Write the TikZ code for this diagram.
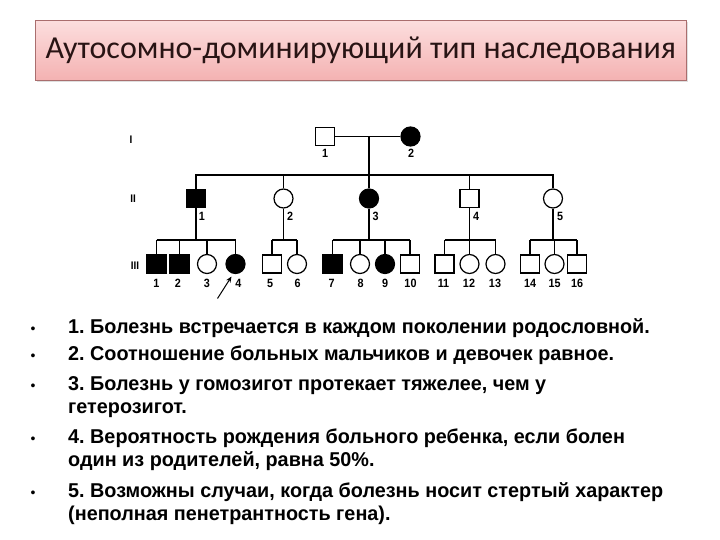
\documentclass[tikz,border=0pt]{standalone}
\usepackage{fontspec}
\setmainfont{Liberation Sans}
\newfontfamily\titlefont{Carlito}
\newfontfamily\listfont[FakeStretch=0.99]{Liberation Sans Bold}
\newfontfamily\numfont[FakeStretch=0.9]{Liberation Sans Bold}
\usetikzlibrary{arrows.meta}
\definecolor{boxtop}{RGB}{252,222,222}
\definecolor{boxbot}{RGB}{244,178,178}
\definecolor{boxline}{RGB}{170,110,110}
\definecolor{titletext}{RGB}{40,20,20}
\frenchspacing
\tikzset{
  sym/.style={draw=black, line width=1.2pt, inner sep=0pt, fill=white},
  male/.style={sym, rectangle, minimum width=19pt, minimum height=18pt},
  female/.style={sym, circle, minimum size=19pt},
  aff/.style={fill=black},
  lnk/.style={line width=1.3pt},
  num/.style={font=\numfont\fontsize{12}{12}\selectfont, inner sep=0pt},
  gen/.style={font=\numfont\fontsize{11}{11}\selectfont, inner sep=0pt},
  item/.style={font=\listfont\fontsize{20}{20}\selectfont, anchor=base west, inner sep=0pt},
  bul/.style={font=\fontsize{14}{14}\selectfont, anchor=base, inner sep=0pt}
}
\begin{document}
\begin{tikzpicture}[x=1pt,y=-1pt]
\useasboundingbox (0,0) rectangle (720,540);
\fill[white] (0,0) rectangle (720,540);
% title
\fill[gray!25] (37,22) rectangle (688,82);
\node[draw=boxline, line width=0.6pt, top color=boxtop, bottom color=boxbot,
  minimum width=651pt, minimum height=60pt, inner sep=0pt, anchor=north west,
  text=titletext, font=\titlefont\fontsize{32}{32}\selectfont] (title) at (35,20) {Аутосомно-доминирующий тип наследования};
% generation labels
\node[gen] (gI) at (131,140) {I};
\node[gen] (gII) at (133,199) {II};
\node[gen] (gIII) at (135,266) {III};
% generation I
\node[male] (I1) at (325,136.5) {};
\node[female, aff] (I2) at (410.5,136.5) {};
% generation II
\node[male, aff] (II1) at (196,198.5) {};
\node[female] (II2) at (283.5,198.5) {};
\node[female, aff] (II3) at (369,198.5) {};
\node[male] (II4) at (469.5,198.5) {};
\node[female] (II5) at (553,198.5) {};
% generation III
\node[male, aff] (III1) at (156.5,264) {};
\node[male, aff] (III2) at (179.5,264) {};
\node[female] (III3) at (207,264) {};
\node[female, aff] (III4) at (235.5,264) {};
\node[male] (III5) at (272,264) {};
\node[female] (III6) at (297,264) {};
\node[male, aff] (III7) at (332.5,264) {};
\node[female] (III8) at (360,264) {};
\node[female, aff] (III9) at (385,264) {};
\node[male] (III10) at (410,264) {};
\node[male] (III11) at (444.5,264) {};
\node[female] (III12) at (469.5,264) {};
\node[female] (III13) at (495.5,264) {};
\node[male] (III14) at (530,264) {};
\node[female] (III15) at (554.5,264) {};
\node[male] (III16) at (577,264) {};
% connectors generation I -> II
\coordinate (m1) at (369,136.5);
\coordinate (r2) at (0,175);
\coordinate (r3) at (0,240);
\draw[lnk] (I1.east) -- (I2.west);
\draw[lnk] (m1) -- (II3.north);
\draw[line width=1.1pt] (II1.north) -- (II1.north |- r2) -- (II5.north |- r2) -- (II5.north);
\foreach \c in {II2,II4} \draw[line width=1.1pt] (\c.north |- r2) -- (\c.north);
% generation II -> III
\draw[lnk] (II1.south) -- (II1.south |- r3);
\draw[lnk] (III1.north |- r3) -- (III4.north |- r3);
\foreach \c in {III1,III2,III3,III4} \draw[lnk] (\c.north |- r3) -- (\c.north);
\draw[lnk] (II2.south) -- (II2.south |- r3);
\draw[lnk] (III5.north |- r3) -- (III6.north |- r3);
\foreach \c in {III5,III6} \draw[lnk] (\c.north |- r3) -- (\c.north);
\draw[lnk] (II3.south) -- (II3.south |- r3);
\draw[lnk] (III7.north |- r3) -- (III10.north |- r3);
\foreach \c in {III7,III8,III9,III10} \draw[lnk] (\c.north |- r3) -- (\c.north);
\draw[lnk] (II4.south) -- (II4.south |- r3);
\draw[lnk] (III11.north |- r3) -- (III13.north |- r3);
\foreach \c in {III11,III12,III13} \draw[lnk] (\c.north |- r3) -- (\c.north);
\draw[lnk] (II5.south) -- (II5.south |- r3);
\draw[lnk] (III14.north |- r3) -- (III16.north |- r3);
\foreach \c in {III14,III15,III16} \draw[lnk] (\c.north |- r3) -- (\c.north);
% proband arrow
\coordinate (arr) at (217.5,298.5);
\draw[line width=1pt, -{Stealth[length=6pt,width=5pt]}] (arr) -- (231.5,276.5);
% number labels
\node[num] (nI1) at (325,153) {1};
\node[num] (nI2) at (411,153) {2};
\node[num] (nII1) at (202,216.5) {1};
\node[num] (nII2) at (290,216.5) {2};
\node[num] (nII3) at (375.5,216.5) {3};
\node[num] (nII4) at (476,216) {4};
\node[num] (nII5) at (560,216) {5};
\foreach \n/\x in {1/156.5,2/178,3/207,4/238.5,5/270,6/297.5,7/331.5,8/360.5,9/385,10/410.5,11/443.5,12/469,13/495,14/530,15/554.5,16/577}
  \node[num] (nIII\n) at (\x,283) {\n};
% list
\node[bul] (b1) at (33,333) {•};
\node[bul] (b2) at (33,360) {•};
\node[bul] (b3) at (33,390) {•};
\node[bul] (b4) at (33,443) {•};
\node[bul] (b5) at (33,497) {•};
\node[item] (t1) at (68,333) {1. Болезнь встречается в каждом поколении родословной.};
\node[item] (t2) at (68,360) {2. Соотношение больных мальчиков и девочек равное.};
\node[item] (t3) at (68,390) {3. Болезнь у гомозигот протекает тяжелее, чем у};
\node[item] (t3b) at (68,413) {гетерозигот.};
\node[item] (t4) at (68,443) {4. Вероятность рождения больного ребенка, если болен};
\node[item] (t4b) at (68,466) {один из родителей, равна 50\%.};
\node[item] (t5) at (68,497) {5. Возможны случаи, когда болезнь носит стертый характер};
\node[item] (t5b) at (68,520) {(неполная пенетрантность гена).};
\end{tikzpicture}
\end{document}
